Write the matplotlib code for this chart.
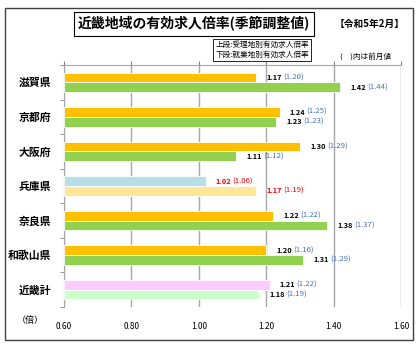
import matplotlib
matplotlib.use("Agg")
from matplotlib import pyplot as plt
from matplotlib.patches import Rectangle
import numpy as np

plt.rcParams['font.family'] = ['Noto Sans CJK JP', 'DejaVu Sans']

# data
regions = ['滋賀県', '京都府', '大阪府', '兵庫県', '奈良県', '和歌山県', '近畿計']
juri = [1.17, 1.24, 1.30, 1.02, 1.22, 1.20, 1.21]        # 上段: 受理地別
juri_prev = [1.20, 1.25, 1.29, 1.06, 1.22, 1.16, 1.22]
shugyo = [1.42, 1.23, 1.11, 1.17, 1.38, 1.31, 1.18]      # 下段: 就業地別
shugyo_prev = [1.44, 1.23, 1.12, 1.19, 1.37, 1.29, 1.19]
xticks = [0.60, 0.80, 1.00, 1.20, 1.40, 1.60]

top_colors = ['#FFC000', '#FFC000', '#FFC000', '#B7DEE8', '#FFC000', '#FFC000', '#FFCCFF']
bot_colors = ['#92D050', '#92D050', '#92D050', '#FFE699', '#92D050', '#92D050', '#CCFFCC']
label_col = ['#000000'] * 3 + ['#FF0000'] + ['#000000'] * 3
prev_col = ['#4472C4'] * 3 + ['#FF0000'] + ['#4472C4'] * 3

fig = plt.figure(figsize=(4.2, 3.44), dpi=100)
ax = fig.add_axes([64/420, 1 - 307/344, (401-64)/420, (307-65)/344])

y = np.arange(len(regions))
h = 0.28
ax.barh(y - h/2, np.array(juri) - 0.6, left=0.6, height=h, color=top_colors,
        edgecolor='white', linewidth=0.6, zorder=3)
ax.barh(y + h/2, np.array(shugyo) - 0.6, left=0.6, height=h, color=bot_colors,
        edgecolor='white', linewidth=0.6, zorder=3)

for i in range(len(regions)):
    for val, prev, yy in [(juri[i], juri_prev[i], y[i] - h/2), (shugyo[i], shugyo_prev[i], y[i] + h/2)]:
        ax.text(val + 0.03, yy, f'{val:.2f}', fontsize=5.3, fontweight='bold',
                color=label_col[i], va='center', ha='left', zorder=4)
        ax.text(val + 0.08, yy, f'({prev:.2f})', fontsize=5.6,
                color=prev_col[i], va='center', ha='left', zorder=4)

ax.set_xlim(0.6, 1.6)
ax.set_ylim(len(regions) - 0.5, -0.5)
ax.set_xticks(xticks)
ax.set_xticklabels([f'{v:.2f}' for v in xticks], fontsize=6)
ax.tick_params(axis='x', top=True, bottom=False, labelbottom=True, labeltop=False,
               direction='out', length=3, color='#808080', pad=8)
ax.set_yticks(y)
ax.set_yticklabels(regions, fontsize=7.8, fontweight='bold')
ax.tick_params(axis='y', which='major', length=0, pad=9)
ax.set_yticks(np.arange(-0.5, len(regions)), minor=True)
ax.tick_params(axis='y', which='minor', length=3, color='#808080', direction='out')
ax.grid(axis='x', color='#A6A6A6', linewidth=1, zorder=0)
for s in ['right', 'bottom']:
    ax.spines[s].set_visible(False)
for s in ['left', 'top']:
    ax.spines[s].set_color('#A6A6A6')

# outer frame
fig.patches.append(Rectangle((5/420, 1 - 340/344), 408/420, 332/344, transform=fig.transFigure,
                             fill=False, edgecolor='#404040', linewidth=1))

fig.text(194/420, 1 - 24/344, '近畿地域の有効求人倍率(季節調整値)', fontsize=10, fontweight='bold',
         ha='center', va='center',
         bbox=dict(boxstyle='square,pad=0.3', facecolor='white', edgecolor='black', linewidth=0.8))
fig.text(370/420, 1 - 24/344, '【令和5年2月】', fontsize=7, fontweight='bold', ha='center', va='center')
fig.text(262/420, 1 - 50/344, '上段:受理地別有効求人倍率\n下段:就業地別有効求人倍率', fontsize=5.5,
         ha='center', va='center', linespacing=1.3,
         bbox=dict(boxstyle='square,pad=0.3', facecolor='white', edgecolor='black', linewidth=0.6))
fig.text(366/420, 1 - 57/344, '(　)内は前月値', fontsize=5.5, ha='center', va='center')
fig.text(30/420, 1 - 320/344, '（倍）', fontsize=6.5, ha='center', va='center')

fig.savefig('out.png', dpi=100)
